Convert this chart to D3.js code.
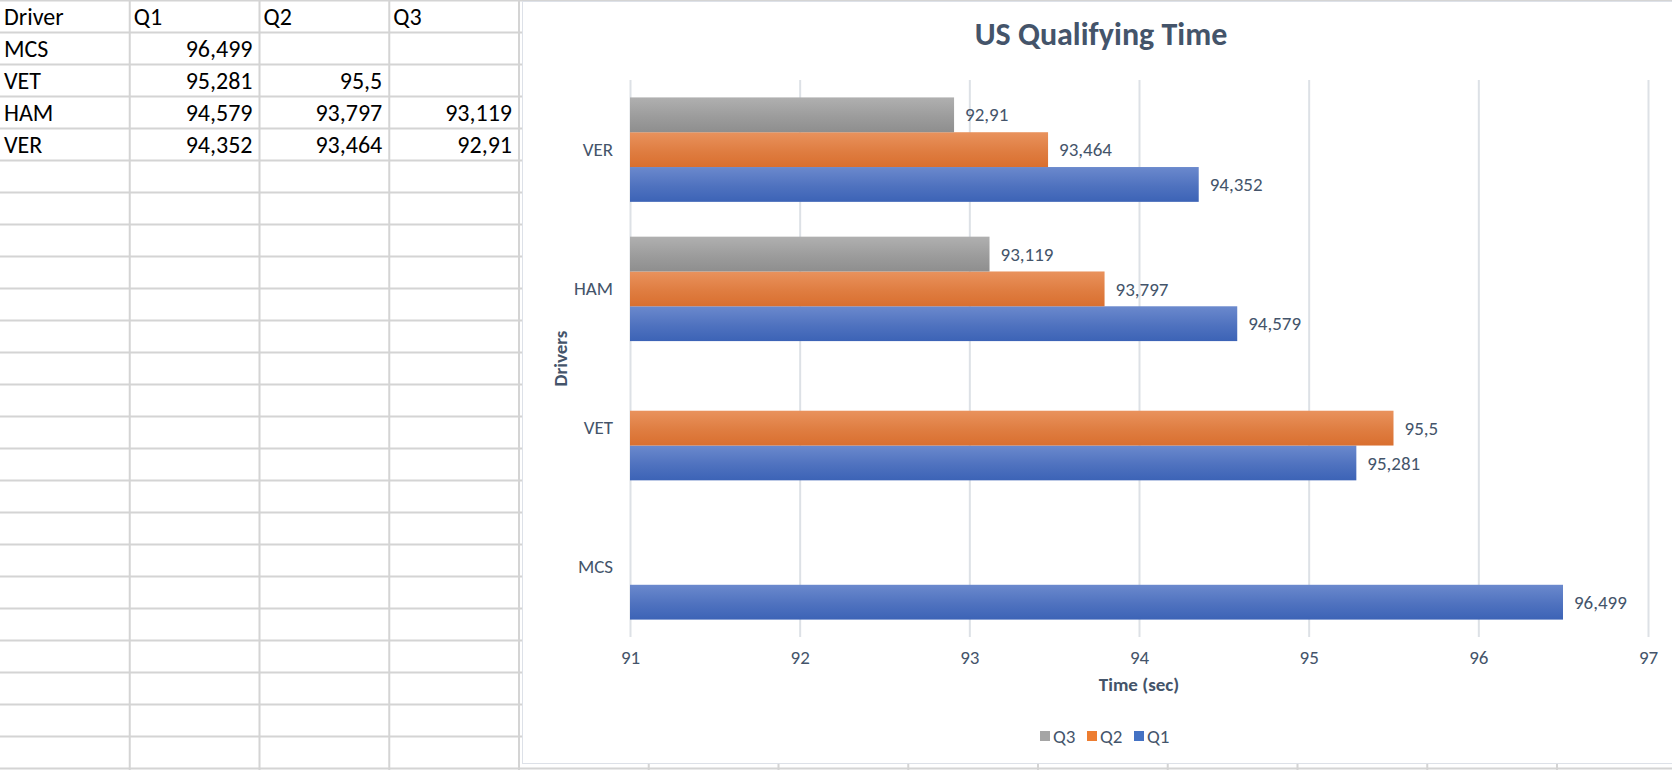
<!DOCTYPE html>
<html lang="en">
<head>
  <meta charset="UTF-8">
  <title>US Qualifying Time</title>
  <script src="https://d3js.org/d3.v7.min.js"></script>
  <style>
    body { margin: 0; background: #fff; }
    svg { display: block; }
    .cell { font-family: Calibri, Carlito, Lato, sans-serif; font-size: 24px; fill: #000; }
    .chart-text { font-family: Calibri, Carlito, Lato, sans-serif; fill: #44546a; }
  </style>
</head>
<body>
  <svg id="sheet"></svg>

  <script>
    const drivers = ["MCS", "VET", "HAM", "VER"];
    const q1 = [96.499, 95.281, 94.579, 94.352];
    const q2 = [null, 95.5, 93.797, 93.464];
    const q3 = [null, null, 93.119, 92.91];
    const seriesNames = ["Q1", "Q2", "Q3"];
    const xTicks = [91, 92, 93, 94, 95, 96, 97];

    const width = 1672;
    const height = 770;

    const svg = d3.select("#sheet")
      .attr("width", width)
      .attr("height", height);

    const fmt = v => String(v).replace(".", ",");

    // ---- spreadsheet grid behind everything
    const colW = 129.75;
    const rowH = 32;
    const nCols = Math.ceil(width / colW);
    const nRows = Math.ceil(height / rowH);

    const grid = svg.append("g");
    grid.selectAll("line.h")
      .data(d3.range(0, nRows + 1))
      .join("line")
      .attr("class", "h")
      .attr("x1", 0).attr("x2", width)
      .attr("y1", d => d * rowH + 0.5).attr("y2", d => d * rowH + 0.5)
      .attr("stroke", "#d4d4d4").attr("stroke-width", 2);
    grid.selectAll("line.v")
      .data(d3.range(1, nCols + 1))
      .join("line")
      .attr("class", "v")
      .attr("x1", d => d * colW).attr("x2", d => d * colW)
      .attr("y1", 0).attr("y2", height)
      .attr("stroke", "#d4d4d4").attr("stroke-width", 2);

    // header + rows of the table
    const header = ["Driver"].concat(seriesNames);
    grid.selectAll("text.head")
      .data(header)
      .join("text")
      .attr("class", "cell head")
      .attr("x", (d, i) => i * colW + 4)
      .attr("y", 25)
      .text(d => d);

    const rows = drivers.map((d, i) => [d, q1[i], q2[i], q3[i]]);
    rows.forEach((r, ri) => {
      const y = (ri + 1) * rowH + 25;
      grid.append("text")
        .attr("class", "cell")
        .attr("x", 4).attr("y", y)
        .text(r[0]);
      r.slice(1).forEach((v, ci) => {
        if (v == null) return;
        grid.append("text")
          .attr("class", "cell")
          .attr("x", (ci + 2) * colW - 7).attr("y", y)
          .attr("text-anchor", "end")
          .text(fmt(v));
      });
    });

    // ---- chart object
    const chart = svg.append("g");
    chart.append("rect")
      .attr("x", 522.5).attr("y", 1.5)
      .attr("width", 1160).attr("height", 762)
      .attr("fill", "#fff")
      .attr("stroke", "#dde1e8").attr("stroke-width", 1);

    const margin = { top: 80, right: 24, bottom: 133, left: 630 };
    const x = d3.scaleLinear()
      .domain([xTicks[0], xTicks[xTicks.length - 1]])
      .range([margin.left, width - margin.right]);

    const y0 = d3.scaleBand()
      .domain(drivers.slice().reverse())
      .range([margin.top, height - margin.bottom]);

    const y1 = d3.scaleBand()
      .domain(["Q3", "Q2", "Q1"])
      .range([0, y0.bandwidth()])
      .paddingInner(0)
      .paddingOuter(0.5);

    const colors = {
      Q1: ["#6b89cd", "#3c63b6"],
      Q2: ["#e9925d", "#d96f2f"],
      Q3: ["#b0b0b0", "#8e8e8e"]
    };
    const legendColors = { Q1: "#4472c4", Q2: "#ed7d31", Q3: "#a5a5a5" };

    const defs = svg.append("defs");
    Object.entries(colors).forEach(([k, c]) => {
      const g = defs.append("linearGradient")
        .attr("id", "grad-" + k)
        .attr("x1", 0).attr("y1", 0).attr("x2", 0).attr("y2", 1);
      g.append("stop").attr("offset", "0%").attr("stop-color", c[0]);
      g.append("stop").attr("offset", "55%").attr("stop-color", d3.interpolateRgb(c[0], c[1])(0.6));
      g.append("stop").attr("offset", "100%").attr("stop-color", c[1]);
    });

    // gridlines + x tick labels
    const plotH = y0.range()[1] - y0.range()[0];
    const xAxis = chart.append("g")
      .attr("transform", `translate(0, ${height - margin.bottom})`)
      .call(d3.axisBottom(x).tickValues(xTicks).tickSize(-plotH).tickPadding(14).tickFormat(d3.format("d")));
    xAxis.select(".domain").remove();
    xAxis.selectAll(".tick line").attr("stroke", "#dde1e6").attr("stroke-width", 2);
    xAxis.selectAll(".tick text")
      .attr("class", "chart-text")
      .style("font-size", "19px");

    // driver labels
    const yAxis = chart.append("g")
      .attr("transform", `translate(${margin.left}, 0)`)
      .call(d3.axisLeft(y0).tickSize(0).tickPadding(17));
    yAxis.select(".domain").remove();
    yAxis.selectAll(".tick text")
      .attr("class", "chart-text")
      .style("font-size", "19px");

    // bars
    const barData = [];
    drivers.forEach((d, i) => {
      [["Q1", q1[i]], ["Q2", q2[i]], ["Q3", q3[i]]].forEach(([s, v]) => {
        if (v != null) barData.push({ driver: d, series: s, value: v });
      });
    });

    chart.append("g")
      .selectAll("rect")
      .data(barData)
      .join("rect")
      .attr("x", x(xTicks[0]))
      .attr("y", d => y0(d.driver) + y1(d.series))
      .attr("width", d => x(d.value) - x(xTicks[0]))
      .attr("height", y1.bandwidth())
      .attr("fill", d => `url(#grad-${d.series})`);

    chart.append("g")
      .selectAll("text")
      .data(barData)
      .join("text")
      .attr("class", "chart-text")
      .attr("x", d => x(d.value) + 11)
      .attr("y", d => y0(d.driver) + y1(d.series) + y1.bandwidth() / 2)
      .attr("dy", "0.35em")
      .style("font-size", "19px")
      .text(d => fmt(d.value));

    // titles
    chart.append("text")
      .attr("class", "chart-text")
      .attr("x", 1101).attr("y", 34)
      .attr("dy", "0.35em")
      .attr("text-anchor", "middle")
      .style("font-size", "32px").style("font-weight", "bold")
      .text("US Qualifying Time");

    chart.append("text")
      .attr("class", "chart-text")
      .attr("x", (x.range()[0] + x.range()[1]) / 2).attr("y", 684)
      .attr("dy", "0.35em")
      .attr("text-anchor", "middle")
      .style("font-size", "19px").style("font-weight", "bold")
      .text("Time (sec)");

    chart.append("text")
      .attr("class", "chart-text")
      .attr("transform", `translate(560, ${(y0.range()[0] + y0.range()[1]) / 2}) rotate(-90)`)
      .attr("dy", "0.35em")
      .attr("text-anchor", "middle")
      .style("font-size", "19px").style("font-weight", "bold")
      .text("Drivers");

    // legend
    const legendItems = ["Q3", "Q2", "Q1"];
    const legend = chart.append("g")
      .attr("transform", "translate(1040, 736)");
    const item = legend.selectAll("g")
      .data(legendItems)
      .join("g")
      .attr("transform", (d, i) => `translate(${i * 47}, 0)`);
    item.append("rect")
      .attr("x", 0).attr("y", -5)
      .attr("width", 10).attr("height", 10)
      .attr("fill", d => legendColors[d]);
    item.append("text")
      .attr("class", "chart-text")
      .attr("x", 13).attr("y", 0)
      .attr("dy", "0.35em")
      .style("font-size", "19px")
      .text(d => d);
  </script>
</body>
</html>
